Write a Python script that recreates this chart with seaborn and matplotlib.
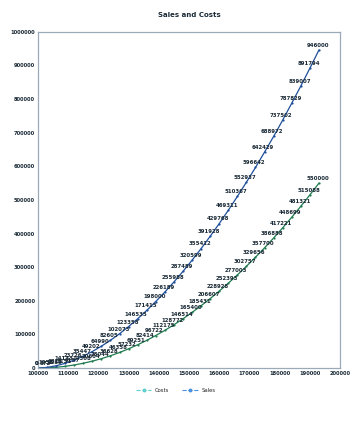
import matplotlib
matplotlib.use("Agg")
import matplotlib.pyplot as plt
from matplotlib.lines import Line2D
import seaborn as sns
import pandas as pd

sns.set_theme(style="white")
plt.rcParams['font.family'] = ['DejaVu Sans']

# Data
periods = [100000, 103000, 106000, 109000, 112000, 115000, 118000, 121000,
           124000, 127000, 130000, 133000, 136000, 139000, 142000, 145000,
           148000, 151000, 154000, 157000, 160000, 163000, 166000, 169000,
           172000, 175000, 178000, 181000, 184000, 187000, 190000, 193000]
sales = [0, 1958, 6811, 14133, 23726, 35447, 49202, 64990, 82605, 102073,
         123358, 146535, 171415, 198000, 226189, 255988, 287489, 320599,
         355412, 391928, 429768, 469311, 510367, 552937, 596642, 642429,
         688972, 737502, 787829, 839007, 891794, 946000]
costs = [0, 572, 2289, 5151, 9157, 14308, 20604, 28044, 36628, 46358,
         57232, 69251, 82414, 96722, 112175, 128772, 146514, 165400,
         185431, 206607, 228928, 252393, 277003, 302757, 329656, 357700,
         386888, 417221, 448699, 481321, 515088, 550000]
series_names = ["Costs", "Sales"]
title = "Sales and Costs"
x_ticks = [100000, 110000, 120000, 130000, 140000, 150000, 160000, 170000,
           180000, 190000, 200000]
y_ticks = [0, 100000, 200000, 300000, 400000, 500000, 600000, 700000,
           800000, 900000, 1000000]

df = pd.DataFrame({
    "x": periods * 2,
    "y": costs + sales,
    "series": [series_names[0]] * len(costs) + [series_names[1]] * len(sales),
})

fig = plt.figure(figsize=(3.51, 4.30), dpi=100)
ax = fig.add_axes([0.108, 0.144, 0.861, 0.782])

palette = {"Costs": "#1f7a4f", "Sales": "#1f4f9a"}
sns.lineplot(data=df, x="x", y="y", hue="series", palette=palette,
             linewidth=0.9, marker="o", markersize=1.6, markeredgewidth=0,
             ax=ax, legend=False)

# value label above every point
for ys in (costs, sales):
    for xv, yv in zip(periods, ys):
        ax.annotate(f"{yv}", (xv, yv), xytext=(-1, 1.5), textcoords="offset points",
                    fontsize=3.9, color="#1a2a36", fontweight="bold",
                    ha="center", va="bottom")

ax.set_xlim(x_ticks[0], x_ticks[-1])
ax.set_ylim(y_ticks[0], y_ticks[-1])
ax.set_xticks(x_ticks)
ax.set_yticks(y_ticks)
ax.set_xticklabels([str(v) for v in x_ticks], fontsize=3.7, fontweight="bold",
                   color="#1a2a36")
ax.set_yticklabels([str(v) for v in y_ticks], fontsize=3.7, fontweight="bold",
                   color="#1a2a36")
ax.tick_params(length=0, pad=2)
ax.set_xlabel("")
ax.set_ylabel("")
for s in ax.spines.values():
    s.set_color("#9aaabb")
    s.set_linewidth(0.9)

ax.set_title(title, fontsize=5, fontweight="bold", color="#1a2a36", pad=11)

handles = [
    Line2D([], [], color="#5fd0d0", linestyle="--", linewidth=0.8, marker="o",
           markersize=1.8),
    Line2D([], [], color="#4a90e0", linestyle="--", linewidth=0.8, marker="o",
           markersize=1.8),
]
fig.legend(handles, series_names, loc="center", bbox_to_anchor=(0.5, 0.093),
           ncol=2, frameon=False, fontsize=3.8, handlelength=3,
           columnspacing=2.5, handletextpad=0.6)

fig.savefig("out.png", dpi=100)
